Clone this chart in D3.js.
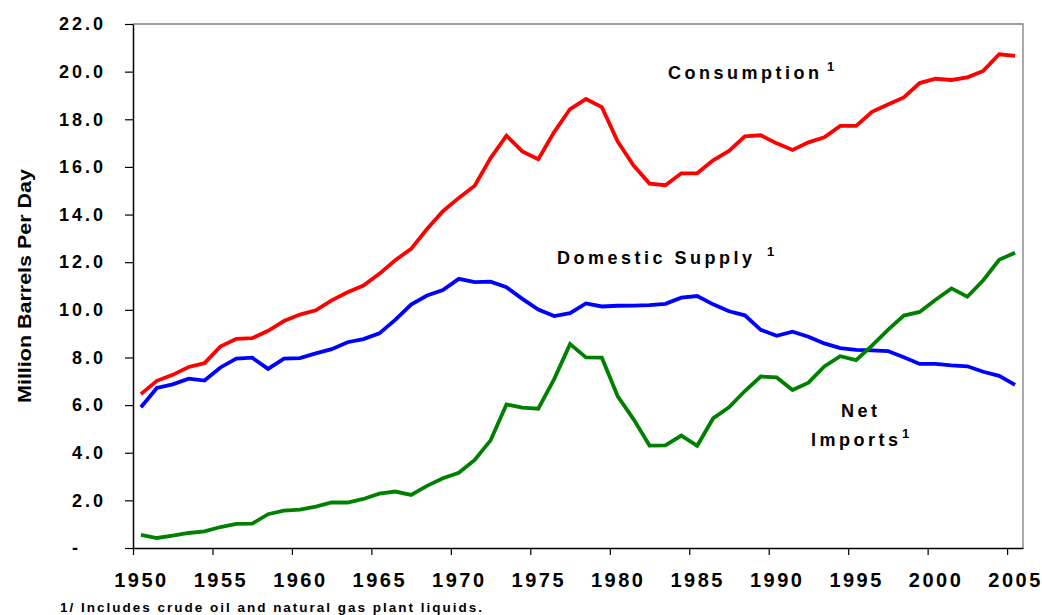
<!DOCTYPE html>
<html><head><meta charset="utf-8">
<script src="https://cdn.jsdelivr.net/npm/d3@7"></script>
<style>
html,body{margin:0;padding:0;background:#fff;}
svg{display:block;}
text{font-family:"Liberation Sans",Arial,sans-serif;font-weight:bold;fill:#000;}
</style></head><body>
<svg id="chart" width="1042" height="615"></svg>
<script>
const years = [1950,1951,1952,1953,1954,1955,1956,1957,1958,1959,
  1960,1961,1962,1963,1964,1965,1966,1967,1968,1969,
  1970,1971,1972,1973,1974,1975,1976,1977,1978,1979,
  1980,1981,1982,1983,1984,1985,1986,1987,1988,1989,
  1990,1991,1992,1993,1994,1995,1996,1997,1998,1999,
  2000,2001,2002,2003,2004,2005];
const consumption = [6.46,7.02,7.27,7.60,7.76,8.46,8.78,8.81,9.12,9.53,
  9.80,9.98,10.40,10.74,11.02,11.51,12.08,12.56,13.39,14.14,
  14.70,15.21,16.37,17.31,16.65,16.32,17.46,18.43,18.85,18.51,
  17.06,16.06,15.30,15.23,15.73,15.73,16.28,16.67,17.28,17.33,
  16.99,16.71,17.03,17.24,17.72,17.72,18.31,18.62,18.92,19.52,
  19.70,19.65,19.76,20.03,20.73,20.66];
const domesticSupply = [5.91,6.72,6.87,7.11,7.03,7.58,7.95,7.99,7.52,7.95,
  7.97,8.17,8.35,8.64,8.77,9.01,9.58,10.22,10.60,10.83,
  11.30,11.16,11.18,10.95,10.46,10.01,9.74,9.86,10.27,10.14,
  10.17,10.18,10.20,10.25,10.51,10.58,10.23,9.94,9.77,9.16,
  8.91,9.08,8.87,8.59,8.39,8.32,8.30,8.27,8.01,7.73,
  7.73,7.67,7.63,7.40,7.23,6.85];
const netImports = [0.55,0.42,0.52,0.63,0.70,0.88,1.01,1.02,1.42,1.57,
  1.61,1.74,1.91,1.91,2.06,2.28,2.37,2.23,2.61,2.93,
  3.16,3.70,4.52,6.03,5.89,5.85,7.09,8.56,8.00,7.99,
  6.37,5.40,4.30,4.31,4.72,4.29,5.44,5.91,6.59,7.20,
  7.16,6.63,6.94,7.62,8.05,7.89,8.50,9.16,9.76,9.91,
  10.42,10.90,10.55,11.24,12.10,12.40];
const yTicks = [0,2,4,6,8,10,12,14,16,18,20,22];
const xTickYears = [1950,1955,1960,1965,1970,1975,1980,1985,1990,1995,2000,2005];
const yTitle = "Million Barrels Per Day";
const footnote = "1/ Includes crude oil and natural gas plant liquids.";

const L=133, R=1023, T=24, B=548;
const svg = d3.select("#chart");
const x = d3.scaleLinear().domain([years[0]-0.5, years[years.length-1]+0.5]).range([L,R]);
const y = d3.scaleLinear().domain([0,22]).range([B,T]);

// top / right frame
svg.append("path").attr("d",`M${L},${T}H${R}V${B}`)
  .attr("fill","none").attr("stroke","#7f7f7f").attr("stroke-width",1.3);

// y axis
const gy = svg.append("g").attr("transform",`translate(${L},0)`)
  .call(d3.axisLeft(y).tickValues(yTicks).tickSize(8).tickSizeOuter(0).tickPadding(19)
    .tickFormat(d => d===0 ? "-" : d3.format(".1f")(d)));
gy.select(".domain").attr("stroke","#000").attr("stroke-width",1.5);
gy.selectAll(".tick line").attr("stroke","#000").attr("stroke-width",1.2);
gy.selectAll(".tick text").style("font-size","18px").style("letter-spacing","3px")
  .style("font-family","'Liberation Sans',Arial,sans-serif").style("font-weight","bold");
gy.selectAll(".tick text").filter(d=>d===0).attr("dx",-25);

// x axis: tick marks at category boundaries
const gxt = svg.append("g").attr("transform",`translate(0,${B})`)
  .call(d3.axisBottom(x).tickValues(xTickYears.map(d=>d-0.5)).tickSize(7).tickSizeOuter(0).tickFormat(""));
gxt.select(".domain").attr("stroke","#000").attr("stroke-width",1.5);
gxt.selectAll(".tick line").attr("stroke","#000").attr("stroke-width",1.2);

// x axis: labels at category centres
const gxl = svg.append("g").attr("transform",`translate(0,${B})`)
  .call(d3.axisBottom(x).tickValues(xTickYears).tickSize(0).tickPadding(25).tickFormat(d3.format("d")));
gxl.select(".domain").remove();
gxl.selectAll(".tick text").style("font-size","20px").style("letter-spacing","2.5px")
  .style("font-family","'Liberation Sans',Arial,sans-serif").style("font-weight","bold");

// lines
const line = d3.line().x((d,i)=>x(years[i])).y(d=>y(d));
const series = [
  {name:"Consumption", values:consumption, color:"#ff0000"},
  {name:"Domestic Supply", values:domesticSupply, color:"#0000ff"},
  {name:"Net Imports", values:netImports, color:"#008000"}
];
svg.selectAll("path.series").data(series).enter().append("path")
  .attr("class","series").attr("d",d=>line(d.values))
  .attr("fill","none").attr("stroke",d=>d.color).attr("stroke-width",3.8)
  .attr("stroke-linejoin","miter").attr("stroke-linecap","butt");

// series labels
function label(txt, x0, y0, fs, ls){
  svg.append("text").attr("x",x0).attr("y",y0).style("font-size",fs+"px")
    .style("letter-spacing",ls+"px").text(txt);
}
label("Consumption", 668, 79, 18, 3.5);
label("1", 827, 71, 13, 0);
label("Domestic Supply", 557, 264, 18, 3.5);
label("1", 767, 256, 13, 0);
label("Net", 841, 417, 18, 3.5);
label("Imports", 811, 446, 18, 3.5);
label("1", 902, 438, 13, 0);

// y title
svg.append("text").attr("transform","translate(31,286) rotate(-90)")
  .attr("text-anchor","middle").style("font-size","18px")
  .attr("textLength",234).attr("lengthAdjust","spacingAndGlyphs").text(yTitle);

// footnote
svg.append("text").attr("x",60).attr("y",612).style("font-size","13.5px")
  .attr("textLength",422).attr("lengthAdjust","spacing").text(footnote);
</script>
</body></html>
